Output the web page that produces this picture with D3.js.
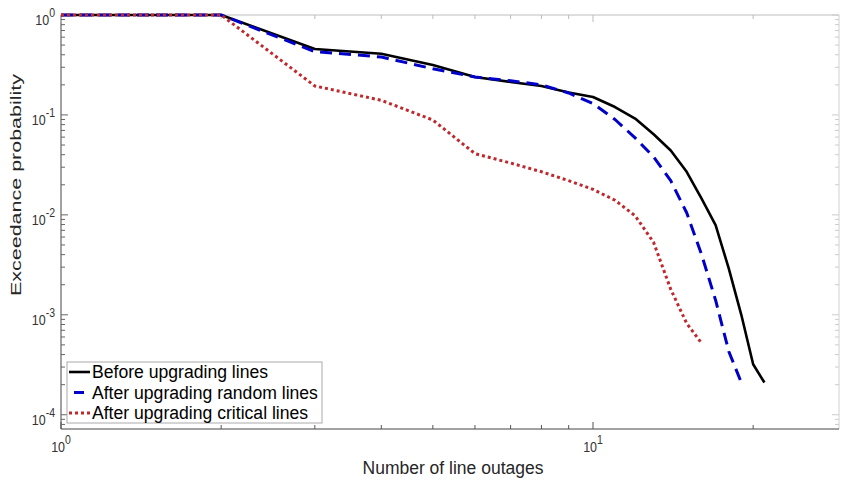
<!DOCTYPE html>
<html><head><meta charset="utf-8">
<script src="https://cdn.jsdelivr.net/npm/d3@7"></script>
<style>body{margin:0;background:#fff}svg{display:block;font-family:"Liberation Sans",Arial,sans-serif}</style>
</head><body><svg id="c" width="841" height="483"></svg>
<script>
const outages = [1,2,3,4,5,6,7,8,9,10,11,12,13,14,15,16,17,18,19,20,21];
const before = [1,1,0.457,0.41,0.316,0.24,0.214,0.195,0.168,0.151,0.12,0.092,0.064,0.044,0.027,0.0145,0.0079,0.0029,0.001,0.00032,0.00021];
const randomUp = [1,1,0.43,0.38,0.29,0.24,0.22,0.2,0.166,0.13,0.09,0.059,0.038,0.022,0.0105,0.004,0.0014,0.00043,0.00021];
const criticalUp = [1,1,0.195,0.14,0.089,0.041,0.033,0.027,0.022,0.018,0.014,0.0098,0.0053,0.0018,0.00082,0.00052];
const xTickExp = [0,1];
const yTickExp = [0,-1,-2,-3,-4];
const seriesNames = ["Before upgrading lines","After upgrading random lines","After upgrading critical lines"];

const svg = d3.select("#c");
const L=61,R=839,T=15,B=429;
const x = d3.scaleLog().domain([1,29]).range([L,R]);
const y = d3.scaleLog().domain([7.2e-5,1]).range([B,T]);

// axes box
svg.append("line").attr("x1",L).attr("x2",R).attr("y1",T).attr("y2",T).attr("stroke","#bdbdbd");
svg.append("line").attr("x1",R).attr("x2",R).attr("y1",T).attr("y2",B).attr("stroke","#d0d0d0");
svg.append("line").attr("x1",L).attr("x2",L).attr("y1",T).attr("y2",B).attr("stroke","#444");
svg.append("line").attr("x1",L).attr("x2",R).attr("y1",B).attr("y2",B).attr("stroke","#444");

// x ticks
const xt = [];
for (let d=1; d<=20; d*=10) for (let m=1;m<=9;m++){ const v=m*d; if(v>=1&&v<=29) xt.push(v); }
xt.forEach(v=>{
  const major = Math.abs(Math.log10(v)%1)<1e-9;
  const len = major?7:4;
  svg.append("line").attr("x1",x(v)).attr("x2",x(v)).attr("y1",B).attr("y2",B-len).attr("stroke","#555");
  svg.append("line").attr("x1",x(v)).attr("x2",x(v)).attr("y1",T).attr("y2",T+len).attr("stroke","#bbb");
});
// y ticks
const yt = [];
for (let e=-5;e<=0;e++) for (let m=1;m<=9;m++){ const v=m*Math.pow(10,e); if(v>=7.2e-5&&v<=1.0000001) yt.push([v,m===1]); }
yt.forEach(([v,major])=>{
  const len = major?7:4;
  svg.append("line").attr("x1",L).attr("x2",L+len).attr("y1",y(v)).attr("y2",y(v)).attr("stroke","#666");
  svg.append("line").attr("x1",R).attr("x2",R-len).attr("y1",y(v)).attr("y2",y(v)).attr("stroke","#ccc");
});

// tick labels (power-of-ten)
function powLabel(g, e){
  g.append("tspan").text("10");
  g.append("tspan").attr("dy",-6.5).attr("font-size",10.5).text(e);
}
xTickExp.forEach(e=>{
  const g = svg.append("g").attr("transform","translate("+x(Math.pow(10,e))+",452) scale(1,1.2)");
  const t = g.append("text").attr("x",0).attr("y",0).attr("text-anchor","middle").attr("font-size",12.5).attr("fill","#333");
  powLabel(t,e);
});
yTickExp.forEach(e=>{
  const g = svg.append("g").attr("transform","translate(55,"+(y(Math.pow(10,e))+10)+") scale(1,1.2)");
  const t = g.append("text").attr("x",0).attr("y",0).attr("text-anchor","end").attr("font-size",12.5).attr("fill","#333");
  powLabel(t,e);
});

// axis labels
svg.append("text").attr("x",453).attr("y",474).attr("text-anchor","middle").attr("font-size",17.5).attr("fill","#262626").text("Number of line outages");
svg.append("text").attr("transform","translate(21,185) rotate(-90)").attr("text-anchor","middle")
  .attr("font-size",15).attr("textLength",222).attr("lengthAdjust","spacingAndGlyphs")
  .attr("fill","#262626").text("Exceedance probability");

// lines
const line = d3.line().x(d=>x(d[0])).y(d=>y(d[1]));
const styles = [
  {color:"#000000",w:2.6,dash:null},
  {color:"#0000c8",w:3,dash:"12,7"},
  {color:"#c0282c",w:3,dash:"3,3"}
];
const data = [before,randomUp,criticalUp].map(s=>s.map((v,i)=>[outages[i],v]));
data.forEach((d,i)=>{
  svg.append("path").attr("d",line(d)).attr("fill","none").attr("stroke",styles[i].color)
    .attr("stroke-width",styles[i].w).attr("stroke-dasharray",styles[i].dash).attr("stroke-linejoin","round");
});

// legend
svg.append("rect").attr("x",67).attr("y",362).attr("width",255).attr("height",61).attr("fill","#fff").attr("stroke","#aaa");
seriesNames.forEach((n,i)=>{
  const yy = 372+i*20.5;
  svg.append("line").attr("x1",69).attr("x2",90).attr("y1",yy).attr("y2",yy)
    .attr("stroke",styles[i].color).attr("stroke-width",styles[i].w)
    .attr("stroke-dasharray", i===1?"0,5,10,20":styles[i].dash);
  svg.append("text").attr("x",92).attr("y",yy+6).attr("font-size",17.6).attr("fill","#000").text(n);
});
</script></body></html>
